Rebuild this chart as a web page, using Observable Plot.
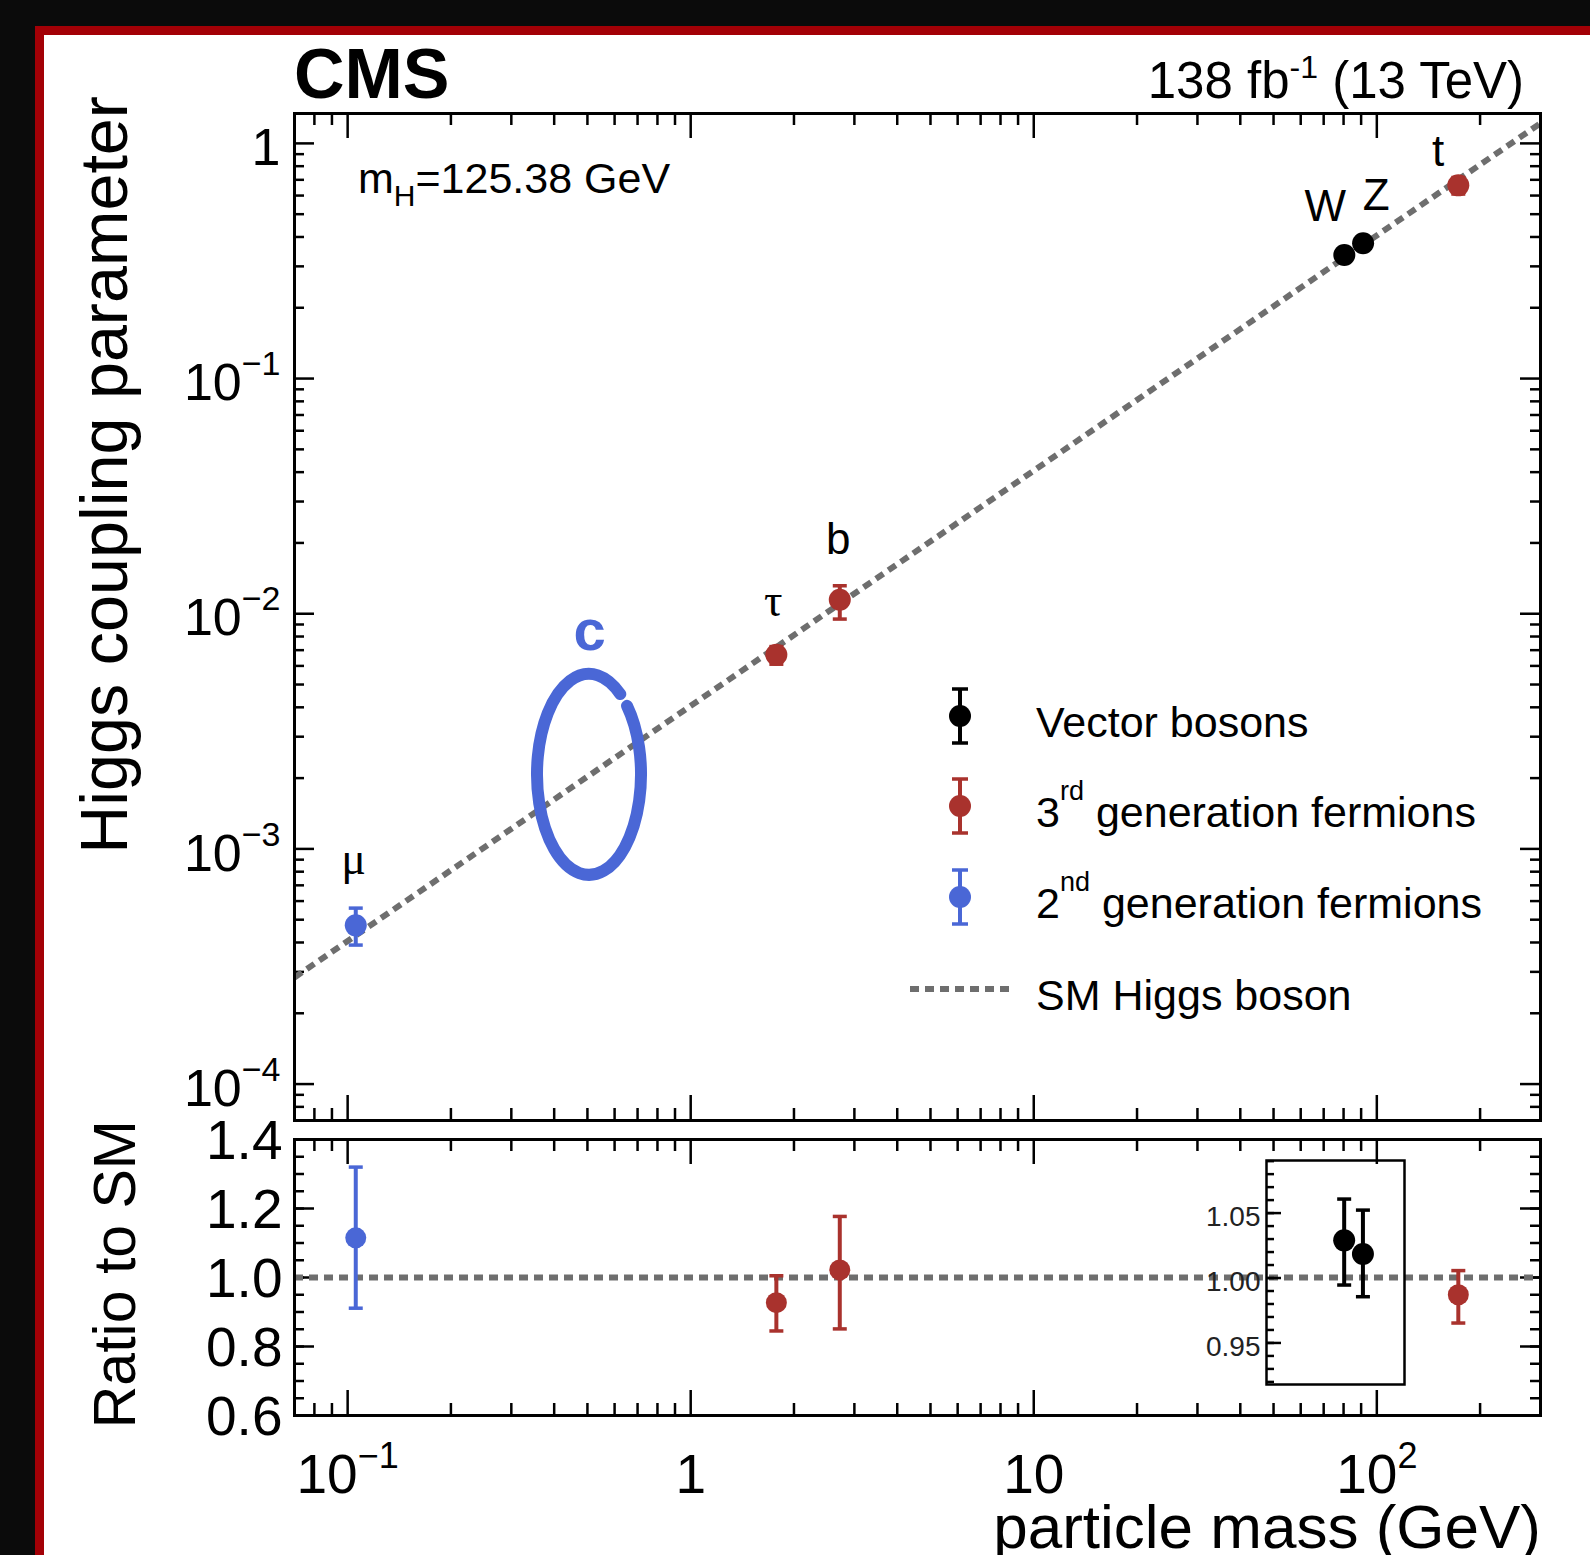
<!DOCTYPE html>
<html>
<head>
<meta charset="utf-8">
<script src="https://cdn.jsdelivr.net/npm/d3@7"></script>
<script src="https://cdn.jsdelivr.net/npm/@observablehq/plot@0.6"></script>
<style>
html, body { margin: 0; padding: 0; width: 1590px; height: 1555px; overflow: hidden; background: #0b0b0b; }
#card { position: absolute; left: 35px; top: 26px; width: 2000px; height: 2000px; border: 9px solid #a30006; background: #ffffff; }
.layer { position: absolute; left: 0; top: 0; }
svg text { white-space: pre; }
</style>
</head>
<body>
<div id="card"></div>
<div id="upper" class="layer"></div>
<div id="lower" class="layer"></div>
<div id="inset" class="layer"></div>
<div id="overlay" class="layer"></div>
<script>
// ---------------- data ----------------
const particles   = ["μ", "τ", "b", "W", "Z", "t"];
const groups      = ["2nd", "3rd", "3rd", "V", "V", "3rd"];
const mass        = [0.1056, 1.777, 2.72, 80.4, 91.2, 172.8];
const coupling    = [4.73e-4, 6.69e-3, 1.147e-2, 0.335, 0.376, 0.663];
const couplingLo  = [3.90e-4, 6.10e-3, 9.49e-3, 0.325, 0.365, 0.609];
const couplingHi  = [5.60e-4, 7.25e-3, 1.315e-2, 0.346, 0.390, 0.716];
const ratio       = [1.115, 0.927, 1.022, 1.029, 1.0185, 0.950];
const ratioLo     = [0.911, 0.845, 0.851, 0.9946, 0.9856, 0.868];
const ratioHi     = [1.320, 1.005, 1.177, 1.0608, 1.0523, 1.020];
const labelMass     = [0.1041, 1.739, 2.69, 70.7, 99.6, 151];
const labelCoupling = [7.83e-4, 9.8e-3, 0.0180, 0.470, 0.519, 0.798];

const charmLabel = "c";
const charmMass = 0.507;
const charmCoupling = 2.065e-3;
const charmLabelCoupling = 7.03e-3;

const smMass = [0.07, 300];
const smCoupling = [2.84e-4, 1.218];
const smRatio = 1;

const groupKeys = ["V", "3rd", "2nd"];
const legendLabels = ["Vector bosons", "3^{rd} generation fermions", "2^{nd} generation fermions", "SM Higgs boson"];

const xDomain = [0.07, 300];
const yDomain = [7e-5, 1.34];
const ratioDomain = [0.6, 1.4];
const insetXDomain = [47.7, 120.6];
const insetYDomain = [0.918, 1.0905];

const xMajorTicks = [0.1, 1, 10, 100];
const xMajorLabels = ["10^−1", "1", "10", "10^2"];
const yMajorTicks = [1e-4, 1e-3, 1e-2, 1e-1, 1];
const yMajorLabels = ["10^−4", "10^−3", "10^−2", "10^−1", "1"];
const ratioMajorTicks = [0.6, 0.8, 1.0, 1.2, 1.4];
const ratioMajorLabels = ["0.6", "0.8", "1.0", "1.2", "1.4"];
const insetMajorTicks = [0.95, 1.00, 1.05];
const insetMajorLabels = ["0.95", "1.00", "1.05"];

// ---------------- styles ----------------
const FONT = "'Liberation Sans', Arial, Helvetica, sans-serif";
const SERIF = "'Liberation Serif', 'DejaVu Serif', serif";
const RED = "#a9322d", BLUE = "#4a67d6", GRAY = "#6e6e6e";
const groupColors = ["#000000", RED, BLUE];
const DASH = "9,6";
const W = 1590, H = 1555;

const pts = particles.map((p, i) => ({
  particle: p, group: groups[i], mass: mass[i],
  coupling: coupling[i], lo: couplingLo[i], hi: couplingHi[i],
  ratio: ratio[i], rlo: ratioLo[i], rhi: ratioHi[i],
  lx: labelMass[i], ly: labelCoupling[i]
}));
const smLink = [{x1: smMass[0], y1: smCoupling[0], x2: smMass[1], y2: smCoupling[1]}];

const capSymbol = { draw(ctx, size) { const w = Math.sqrt(size / Math.PI); ctx.moveTo(-w, 0); ctx.lineTo(w, 0); } };
const colorScale = {domain: groupKeys, range: groupColors};
const baseStyle = {fontFamily: FONT, background: "transparent", overflow: "visible", color: "black"};

const isDecade = d => Math.abs(Math.log10(d) - Math.round(Math.log10(d))) < 1e-6;
const xMinorTicks = d3.scaleLog().domain(xDomain).ticks().filter(d => !isDecade(d));
const yMinorTicks = d3.scaleLog().domain(yDomain).ticks().filter(d => !isDecade(d));
const ratioMinorTicks = d3.ticks(ratioDomain[0], ratioDomain[1], 16);
const insetMinorTicks = d3.ticks(0.92, 1.09, 17);

function tickMarks(o) {
  const s = {stroke: "black", strokeWidth: 2.5};
  const m = [];
  if (o.xMajor) {
    m.push(Plot.tickX(o.xMinor, {x: d => d, insetTop: o.fh - 12, ...s}));
    m.push(Plot.tickX(o.xMinor, {x: d => d, insetBottom: o.fh - 12, ...s}));
    m.push(Plot.tickX(o.xMajor, {x: d => d, insetTop: o.fh - 25, ...s}));
    m.push(Plot.tickX(o.xMajor, {x: d => d, insetBottom: o.fh - 25, ...s}));
  }
  const yMin = o.yMinLen || 10, yMaj = o.yMajLen || 20;
  m.push(Plot.tickY(o.yMinor, {y: d => d, insetRight: o.fw - yMin, ...s}));
  m.push(Plot.tickY(o.yMajor, {y: d => d, insetRight: o.fw - yMaj, ...s}));
  if (o.right !== false) {
    m.push(Plot.tickY(o.yMinor, {y: d => d, insetLeft: o.fw - yMin, ...s}));
    m.push(Plot.tickY(o.yMajor, {y: d => d, insetLeft: o.fw - yMaj, ...s}));
  }
  return m;
}

function supify(svg, size, supSize, raise) {
  d3.select(svg).selectAll("text").each(function () {
    const t = this.textContent;
    const k = t.indexOf("^");
    if (k < 0) return;
    const base = t.slice(0, k), exp = t.slice(k + 1);
    this.textContent = "";
    d3.select(this).append("tspan").text(base);
    d3.select(this).append("tspan").attr("font-size", supSize).attr("dy", -raise).text(exp);
  });
}

function ellipseMark(cx, cy, rx, ry, a0, a1) {
  return (index, scales) => {
    const x0 = scales.x(cx), y0 = scales.y(cy);
    const p = a => [x0 + rx * Math.cos(a * Math.PI / 180), y0 + ry * Math.sin(a * Math.PI / 180)];
    const [sx, sy] = p(a0), [ex, ey] = p(a1);
    return d3.create("svg:path")
      .attr("d", `M${sx},${sy} A${rx},${ry} 0 1 1 ${ex},${ey}`)
      .attr("fill", "none").attr("stroke", BLUE).attr("stroke-width", 12)
      .attr("stroke-linecap", "round").node();
  };
}

// ---------------- upper panel ----------------
const F1 = {l: 294, r: 1540, t: 113, b: 1120};
const upper = Plot.plot({
  width: W, height: 1130,
  marginLeft: F1.l, marginRight: W - F1.r, marginTop: F1.t, marginBottom: 1130 - F1.b,
  style: baseStyle,
  x: {type: "log", domain: xDomain, axis: null},
  y: {type: "log", domain: yDomain},
  color: colorScale,
  marks: [
    ...tickMarks({xMinor: xMinorTicks, xMajor: xMajorTicks, yMinor: yMinorTicks, yMajor: yMajorTicks,
                  fw: F1.r - F1.l, fh: F1.b - F1.t}),
    Plot.link(smLink, {x1: "x1", y1: "y1", x2: "x2", y2: "y2", stroke: GRAY, strokeWidth: 6,
      strokeDasharray: DASH, strokeLinecap: "butt"}),
    ellipseMark(charmMass, charmCoupling, 52, 100.5, -43, -53),
    Plot.text([charmLabel], {x: () => charmMass, y: () => charmLabelCoupling, text: d => d,
      fill: BLUE, fontWeight: "bold", fontSize: 58, lineAnchor: "bottom"}),
    Plot.ruleX(pts, {x: "mass", y1: "lo", y2: "hi", stroke: "group", strokeWidth: 4}),
    Plot.dot(pts, {x: "mass", y: "lo", symbol: capSymbol, r: 7, stroke: "group", fill: "none", strokeWidth: 3.5}),
    Plot.dot(pts, {x: "mass", y: "hi", symbol: capSymbol, r: 7, stroke: "group", fill: "none", strokeWidth: 3.5}),
    Plot.dot(pts, {x: "mass", y: "coupling", r: 11, fill: "group", stroke: null}),
    Plot.text(pts.filter(d => d.particle === "μ" || d.particle === "τ"),
      {x: "lx", y: "ly", text: "particle", fontSize: 46, fontFamily: SERIF, fill: "black", lineAnchor: "bottom"}),
    Plot.text(pts.filter(d => d.particle !== "μ" && d.particle !== "τ"),
      {x: "lx", y: "ly", text: "particle", fontSize: 44, fill: "black", lineAnchor: "bottom"}),
    Plot.frame({stroke: "black", strokeWidth: 3}),
    Plot.axisY(yMajorTicks, {anchor: "left", tickSize: 0, tickPadding: 14, fontSize: 52, dy: 5, label: null,
      tickFormat: d => yMajorLabels[yMajorTicks.indexOf(d)]})
  ]
});
supify(upper, 52, 34, 25);
document.getElementById("upper").appendChild(upper);

// ---------------- lower (ratio) panel ----------------
const F2 = {l: 294, r: 1540, t: 1139, b: 1415};
const mainRatio = pts.filter(d => d.group !== "V");
const lower = Plot.plot({
  width: W, height: H,
  marginLeft: F2.l, marginRight: W - F2.r, marginTop: F2.t, marginBottom: H - F2.b,
  style: baseStyle,
  x: {type: "log", domain: xDomain},
  y: {domain: ratioDomain},
  color: colorScale,
  marks: [
    ...tickMarks({xMinor: xMinorTicks, xMajor: xMajorTicks, yMinor: ratioMinorTicks, yMajor: ratioMajorTicks,
                  fw: F2.r - F2.l, fh: F2.b - F2.t}),
    Plot.ruleY([smRatio], {stroke: GRAY, strokeWidth: 6, strokeDasharray: DASH}),
    Plot.ruleX(mainRatio, {x: "mass", y1: "rlo", y2: "rhi", stroke: "group", strokeWidth: 4}),
    Plot.dot(mainRatio, {x: "mass", y: "rlo", symbol: capSymbol, r: 7, stroke: "group", fill: "none", strokeWidth: 3.5}),
    Plot.dot(mainRatio, {x: "mass", y: "rhi", symbol: capSymbol, r: 7, stroke: "group", fill: "none", strokeWidth: 3.5}),
    Plot.dot(mainRatio, {x: "mass", y: "ratio", r: 10.5, fill: "group", stroke: null}),
    Plot.frame({stroke: "black", strokeWidth: 3}),
    Plot.axisX(xMajorTicks, {anchor: "bottom", tickSize: 0, tickPadding: 38, fontSize: 55, label: null,
      tickFormat: d => xMajorLabels[xMajorTicks.indexOf(d)]}),
    Plot.axisY(ratioMajorTicks, {anchor: "left", tickSize: 0, tickPadding: 12, fontSize: 55, dy: 2, label: null,
      tickFormat: d => ratioMajorLabels[ratioMajorTicks.indexOf(d)]})
  ]
});
supify(lower, 55, 36, 25);
document.getElementById("lower").appendChild(lower);

// ---------------- inset (vector bosons) ----------------
const F3 = {l: 1266, r: 1404, t: 1160, b: 1384};
const vec = pts.filter(d => d.group === "V");
const inset = Plot.plot({
  width: W, height: H,
  marginLeft: F3.l, marginRight: W - F3.r, marginTop: F3.t, marginBottom: H - F3.b,
  style: baseStyle,
  x: {type: "log", domain: insetXDomain, axis: null},
  y: {domain: insetYDomain},
  color: colorScale,
  marks: [
    ...tickMarks({yMinor: insetMinorTicks, yMajor: insetMajorTicks, fw: F3.r - F3.l, fh: F3.b - F3.t,
                  yMinLen: 8, yMajLen: 15, right: false}),
    Plot.ruleX(vec, {x: "mass", y1: "rlo", y2: "rhi", stroke: "group", strokeWidth: 4}),
    Plot.dot(vec, {x: "mass", y: "rlo", symbol: capSymbol, r: 7, stroke: "group", fill: "none", strokeWidth: 3.5}),
    Plot.dot(vec, {x: "mass", y: "rhi", symbol: capSymbol, r: 7, stroke: "group", fill: "none", strokeWidth: 3.5}),
    Plot.dot(vec, {x: "mass", y: "ratio", r: 11, fill: "group", stroke: null}),
    Plot.frame({stroke: "black", strokeWidth: 2.5}),
    Plot.axisY(insetMajorTicks, {anchor: "left", tickSize: 0, tickPadding: 6, fontSize: 28, dy: 4, label: null,
      fill: "#222", tickFormat: d => insetMajorLabels[insetMajorTicks.indexOf(d)]})
  ]
});
document.getElementById("inset").appendChild(inset);

// ---------------- overlay texts and legend ----------------
const ov = d3.select("#overlay").append("svg").attr("width", W).attr("height", H)
  .style("font-family", FONT);

function rich(sel, x, y, str, o) {
  const t = sel.append("text")
    .attr("transform", `translate(${x},${y})` + (o.rotate ? ` rotate(${o.rotate})` : ""))
    .attr("text-anchor", o.anchor || "start").attr("font-size", o.size)
    .attr("font-weight", o.weight || null).attr("fill", o.fill || "black")
    .attr("font-family", o.family || FONT);
  const re = /(\^|_)\{([^}]*)\}/g;
  let last = 0, m, shift = 0;
  while ((m = re.exec(str))) {
    if (m.index > last) { t.append("tspan").attr("dy", shift ? -shift : null).text(str.slice(last, m.index)); shift = 0; }
    const d = m[1] === "^" ? -(o.raise ?? o.size * 0.42) : (o.drop ?? o.size * 0.25);
    t.append("tspan").attr("font-size", o.small ?? o.size * 0.62).attr("dy", d - shift).text(m[2]);
    shift = d;
    last = re.lastIndex;
  }
  if (last < str.length) t.append("tspan").attr("dy", shift ? -shift : null).text(str.slice(last));
  return t;
}

rich(ov, 294, 98, "CMS", {size: 70, weight: "bold"});
rich(ov, 1524, 98, "138 fb^{-1} (13 TeV)", {size: 51, anchor: "end", small: 32, raise: 20});
rich(ov, 358, 193, "m_{H}=125.38 GeV", {size: 43, small: 30, drop: 13});
rich(ov, 127, 96, "Higgs coupling parameter", {size: 66.5, anchor: "end", rotate: -90});
rich(ov, 135, 1120, "Ratio to SM", {size: 59, anchor: "end", rotate: -90});
rich(ov, 1541, 1548, "particle mass (GeV)", {size: 62, anchor: "end"});

// legend
const legX = 960, legTextX = 1036, legRows = [716, 806, 897, 989];
groupKeys.forEach((g, i) => {
  const c = groupColors[i], y = legRows[i];
  ov.append("line").attr("x1", legX).attr("x2", legX).attr("y1", y - 27).attr("y2", y + 27)
    .attr("stroke", c).attr("stroke-width", 4);
  [y - 27, y + 27].forEach(cy => ov.append("line").attr("x1", legX - 8).attr("x2", legX + 8)
    .attr("y1", cy).attr("y2", cy).attr("stroke", c).attr("stroke-width", 3.5));
  ov.append("circle").attr("cx", legX).attr("cy", y).attr("r", 11).attr("fill", c);
  rich(ov, legTextX, y + 21, legendLabels[i], {size: 43, small: 27, raise: 27});
});
ov.append("line").attr("x1", 910).attr("x2", 1014).attr("y1", legRows[3]).attr("y2", legRows[3])
  .attr("stroke", GRAY).attr("stroke-width", 6).attr("stroke-dasharray", DASH);
rich(ov, legTextX, legRows[3] + 21, legendLabels[3], {size: 43});
</script>
</body>
</html>
